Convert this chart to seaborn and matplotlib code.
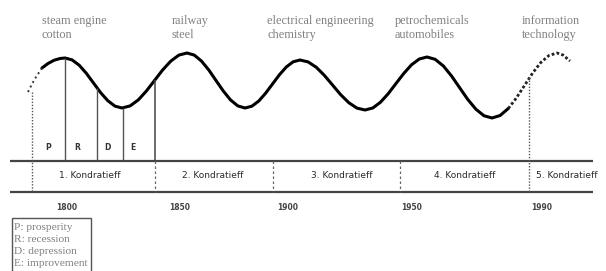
import pandas as pd
import numpy as np
import seaborn as sns
import matplotlib.pyplot as plt
from matplotlib.patches import Rectangle

# long wave (x = timeline position, y = level, screen units, down is positive)
wave_x = [42, 48, 54, 60, 65,
          72.1, 79.3, 86.4, 93.5, 100.6, 107.8, 114.9, 122,
          130.1, 138.3, 146.4, 154.5, 162.6, 170.8, 178.9, 187,
          194.3, 201.5, 208.8, 216, 223.3, 230.5, 237.8, 245,
          251.9, 258.8, 265.6, 272.5, 279.4, 286.3, 293.1, 300,
          308.1, 316.3, 324.4, 332.5, 340.6, 348.8, 356.9, 365,
          372.8, 380.5, 388.3, 396, 403.8, 411.5, 419.3, 427,
          435.1, 443.3, 451.4, 459.5, 467.6, 475.8, 483.9, 492,
          500.1, 508.3]
wave_y = [68, 63.5, 60.3, 58.5, 58,
          59.9, 65.3, 73.4, 83, 92.6, 100.7, 106.1, 108,
          105.9, 99.9, 91.0, 80.5, 70.0, 61.1, 55.1, 53,
          55.1, 61.1, 70.0, 80.5, 91.0, 99.9, 105.9, 108,
          106.2, 101.0, 93.2, 84, 74.8, 67.0, 61.8, 60,
          61.9, 67.3, 75.4, 85, 94.6, 102.7, 108.1, 110,
          108.0, 102.2, 93.6, 83.5, 73.4, 64.8, 59.0, 57,
          59.3, 65.9, 75.8, 87.5, 99.2, 109.1, 115.7, 118,
          115.5, 108.5]
# dotted ends of the wave
start_x = [28, 32, 36, 42]
start_y = [92, 84, 77, 68]
end_x = [508.3, 516.4, 524.5, 532.6, 540.8, 548.9, 557, 563, 570]
end_y = [108.5, 97.9, 85.5, 73.1, 62.5, 55.5, 53, 55, 61]

# phase dividers inside the 1st wave
phase_x = [65, 97, 123]
phase_top = [58, 88, 108]
phase_labels = ['P', 'R', 'D', 'E']
phase_label_x = [48, 77, 107, 133]

# wave boundaries
bound_x = [32, 155, 273, 400, 529]
bound_top = [92, 80, 161, 161, 77]
bound_style = [':', '--', '--', ':', ':']

kondratieff = ['1. Kondratieff', '2. Kondratieff', '3. Kondratieff',
               '4. Kondratieff', '5. Kondratieff']
kondratieff_x = [90, 213, 342, 465, 567]

years = ['1800', '1850', '1900', '1950', '1990']
years_x = [67, 180, 288, 412, 542]

innovations = [('steam engine', 'cotton'), ('railway', 'steel'),
               ('electrical engineering', 'chemistry'),
               ('petrochemicals', 'automobiles'),
               ('information', 'technology')]
innovations_x = [42, 172, 267, 395, 522]

legend_lines = ['P: prosperity', 'R: recession', 'D: depression', 'E: improvement']
legend_y = [228, 239.5, 251, 263]

sns.set_style('white')

fig = plt.figure(figsize=(6.06, 2.71), dpi=100)
ax = fig.add_axes([0, 0, 1, 1])

wave = pd.DataFrame({'x': wave_x, 'y': wave_y})
sns.lineplot(ax=ax, data=wave, x='x', y='y', sort=False, color='black',
             linewidth=2.2, solid_joinstyle='round', solid_capstyle='round')
sns.lineplot(ax=ax, x=start_x, y=start_y, sort=False, color='#333333',
             linewidth=1.4, linestyle=':')
sns.lineplot(ax=ax, x=end_x, y=end_y, sort=False, color='#222222',
             linewidth=2.0, linestyle=(0, (1, 0.8)))

# the two rules of the time band
ax.hlines([161, 192], 10, 593, color='#444444', linewidth=1.6)

for x, top in zip(phase_x, phase_top):
    ax.vlines(x, top, 160, color='#555555', linewidth=1.0)

for x, top, ls in zip(bound_x, bound_top, bound_style):
    if top < 161:
        if ls == '--':
            ax.vlines(x, top, 161, color='#444444', linewidth=1.1)
            ax.vlines(x, 161, 192, color='#666666', linewidth=0.9, linestyle=(0, (2, 2)))
        else:
            ax.vlines(x, top, 192, color='#555555', linewidth=1.0, linestyle=(0, (1, 1.2)))
    else:
        ax.vlines(x, top, 192, color='#666666', linewidth=0.9, linestyle=(0, (2, 2)))

for lab, x in zip(phase_labels, phase_label_x):
    ax.text(x, 148, lab, ha='center', va='center', fontsize=5.5,
            fontweight='bold', color='#333333', family='DejaVu Sans')

for lab, x in zip(kondratieff, kondratieff_x):
    ax.text(x, 176, lab, ha='center', va='center', fontsize=6.5,
            color='#2a2a2a', family='DejaVu Sans')

for lab, x in zip(years, years_x):
    ax.text(x, 207, lab, ha='center', va='center', fontsize=5.5,
            fontweight='bold', color='#444444', family='DejaVu Sans')

for (l1, l2), x in zip(innovations, innovations_x):
    ax.text(x, 21, l1, ha='left', va='center', fontsize=8.8,
            color='#808080', family='Liberation Serif')
    ax.text(x, 35, l2, ha='left', va='center', fontsize=8.8,
            color='#808080', family='Liberation Serif')

ax.add_patch(Rectangle((12, 218), 79, 60, facecolor='none',
                       edgecolor='#555555', linewidth=1.0))
for lab, y in zip(legend_lines, legend_y):
    ax.text(14, y, lab, ha='left', va='center', fontsize=8.2,
            color='#808080', family='Liberation Serif')

ax.set_xlim(0, 606)
ax.set_ylim(271, 0)
ax.axis('off')

fig.savefig('out.png', dpi=100)
